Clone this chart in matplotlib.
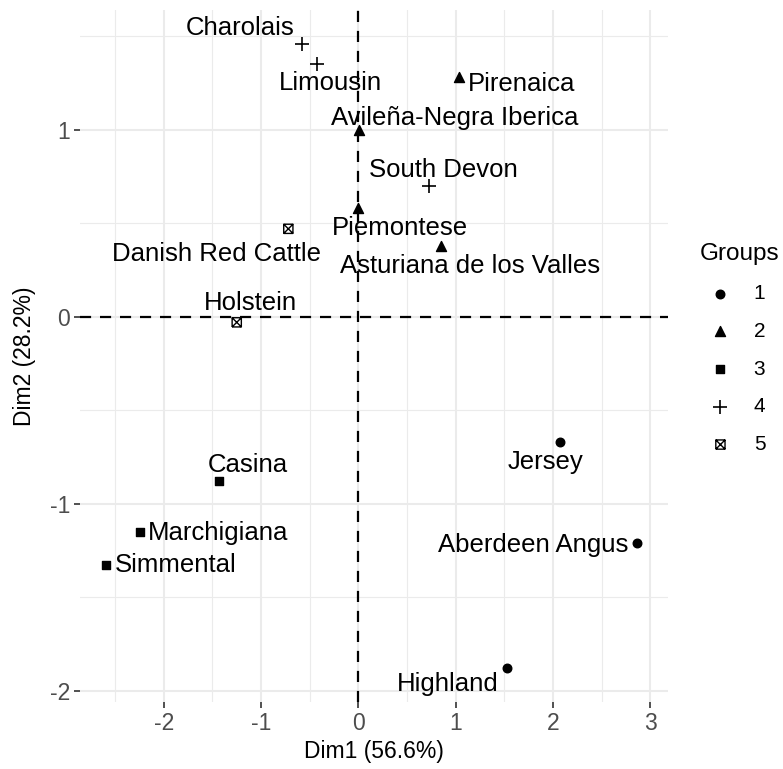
import numpy as np
import matplotlib.pyplot as plt
from matplotlib.path import Path
from matplotlib.ticker import MultipleLocator

plt.rcParams['font.family'] = ['Liberation Sans', 'DejaVu Sans']

breeds = ['Charolais', 'Limousin', 'Pirenaica', 'Avileña-Negra Iberica', 'South Devon',
          'Piemontese', 'Asturiana de los Valles', 'Danish Red Cattle', 'Holstein',
          'Jersey', 'Aberdeen Angus', 'Highland', 'Casina', 'Marchigiana', 'Simmental']
dim1 = [-0.58, -0.43, 1.03, 0.01, 0.73, 0.00, 0.85, -0.72, -1.25,
        2.07, 2.86, 1.53, -1.43, -2.24, -2.59]
dim2 = [1.46, 1.35, 1.28, 1.00, 0.70, 0.58, 0.38, 0.47, -0.03,
        -0.67, -1.21, -1.88, -0.88, -1.15, -1.33]
groups = [4, 4, 2, 2, 4, 2, 2, 5, 5, 1, 1, 1, 3, 3, 3]
group_names = [1, 2, 3, 4, 5]

# label placement (pixel offsets from the point, alignment), mimicking ggrepel
label_pos = {
    'Charolais': (-62, 16, 'center'),
    'Limousin': (14, -19, 'center'),
    'Pirenaica': (9, -7, 'left'),
    'Avileña-Negra Iberica': (95, 12, 'center'),
    'South Devon': (14, 16, 'center'),
    'Piemontese': (42, -20, 'center'),
    'Asturiana de los Valles': (29, -20, 'center'),
    'Danish Red Cattle': (-72, -25, 'center'),
    'Holstein': (14, 19, 'center'),
    'Jersey': (-14, -20, 'center'),
    'Aberdeen Angus': (-8, -2, 'right'),
    'Highland': (-9, -16, 'right'),
    'Casina': (29, 16, 'center'),
    'Marchigiana': (8, -1, 'left'),
    'Simmental': (9, 0, 'left'),
}

# square with an x inside (R pch 7)
boxx = Path([(-1, -1), (1, -1), (1, 1), (-1, 1), (-1, -1),
             (-1, -1), (1, 1), (-1, 1), (1, -1)],
            [Path.MOVETO, Path.LINETO, Path.LINETO, Path.LINETO, Path.LINETO,
             Path.MOVETO, Path.LINETO, Path.MOVETO, Path.LINETO])
styles = {
    1: dict(marker='o', s=38, color='black'),
    2: dict(marker='^', s=52, color='black'),
    3: dict(marker='s', s=36, color='black'),
    4: dict(marker='+', s=110, color='black', linewidths=1.2),
    5: dict(marker=boxx, s=44, facecolors='none', edgecolors='black', linewidths=1.0),
}

fig = plt.figure(figsize=(7.83, 7.69), dpi=100)
ax = fig.add_axes([80 / 783, 1 - 702 / 769, (668 - 80) / 783, (702 - 10) / 769])

ax.set_xlim(-2.86, 3.18)
ax.set_ylim(-2.06, 1.64)
ax.xaxis.set_major_locator(MultipleLocator(1))
ax.yaxis.set_major_locator(MultipleLocator(1))
ax.xaxis.set_minor_locator(MultipleLocator(0.5))
ax.yaxis.set_minor_locator(MultipleLocator(0.5))
ax.grid(True, which='major', color='#EBEBEB', linewidth=1.5)
ax.grid(True, which='minor', color='#EBEBEB', linewidth=0.8)
ax.set_axisbelow(True)
for sp in ax.spines.values():
    sp.set_visible(False)
ax.tick_params(which='major', length=4, width=1.2, color='#333333',
               labelsize=16.5, labelcolor='#4D4D4D', pad=3)
ax.tick_params(which='minor', length=0)
ax.xaxis.set_major_formatter(plt.FuncFormatter(lambda v, p: f'{v:g}'))
ax.yaxis.set_major_formatter(plt.FuncFormatter(lambda v, p: f'{v:g}'))

ax.axhline(0, color='black', linestyle=(0, (5, 4)), linewidth=1.6, zorder=1)
ax.axvline(0, color='black', linestyle=(0, (5, 4)), linewidth=1.6, zorder=1)

x = np.array(dim1)
y = np.array(dim2)
g = np.array(groups)
for grp in group_names:
    m = g == grp
    ax.scatter(x[m], y[m], label=str(grp), zorder=3, **styles[grp])

for name, xi, yi in zip(breeds, dim1, dim2):
    dx, dy, ha = label_pos[name]
    ax.annotate(name, (xi, yi), xytext=(dx, dy), textcoords='offset pixels',
                ha=ha, va='center', fontsize=18.5, color='black', zorder=4)

ax.set_xlabel('Dim1 (56.6%)', fontsize=16.5, labelpad=4)
ax.set_ylabel('Dim2 (28.2%)', fontsize=16.5, labelpad=10)

leg = fig.legend(title='Groups', loc='upper left', bbox_to_anchor=(685 / 783, 1 - 228 / 769),
                 frameon=False, fontsize=15, title_fontsize=17.5,
                 handlelength=2, handletextpad=0.6, labelspacing=0.9,
                 borderpad=0.2)
leg._legend_box.align = 'left'
leg._legend_box.sep = 14

fig.savefig('out.png', dpi=100)
